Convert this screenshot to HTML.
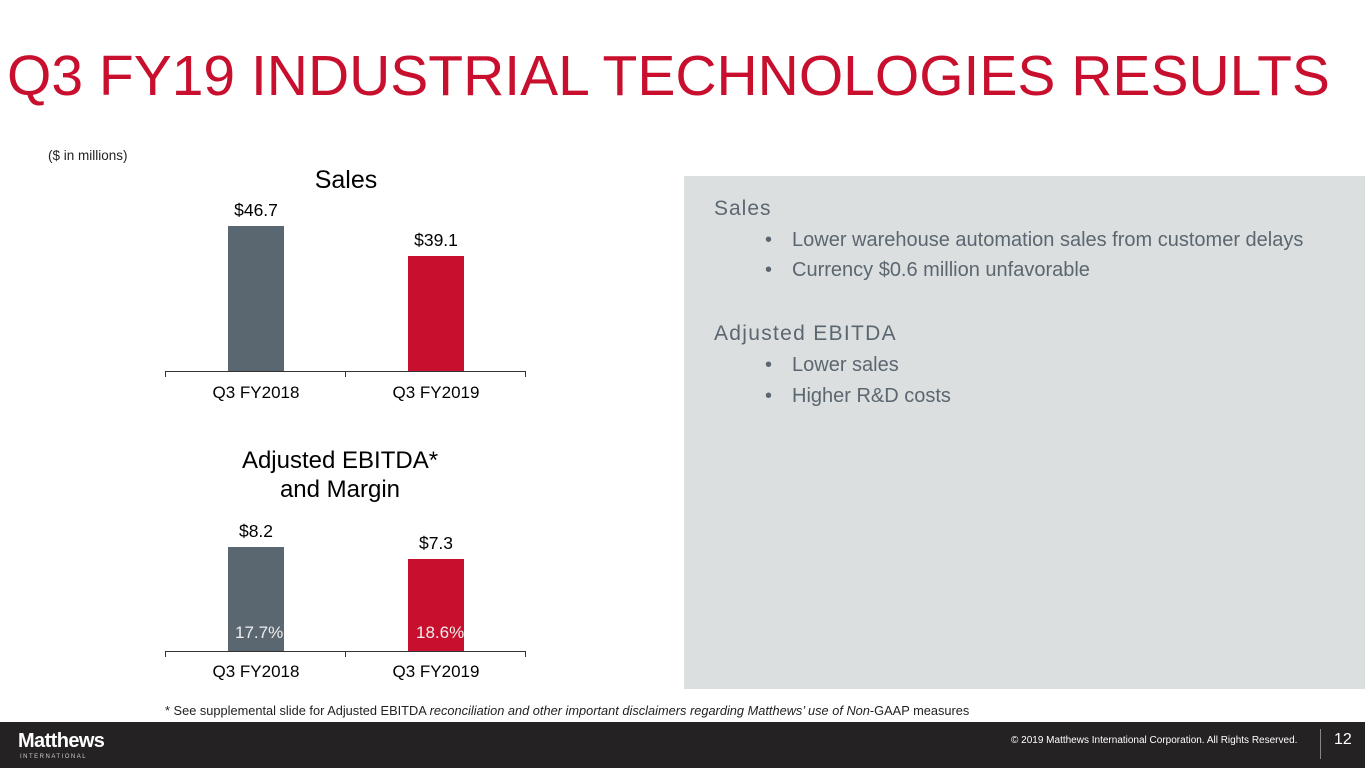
<!DOCTYPE html>
<html><head><meta charset="utf-8"><style>
body{margin:0;width:1365px;height:768px;position:relative;background:#fff;font-family:"Liberation Sans",Arial,sans-serif;overflow:hidden}
.a{position:absolute;white-space:nowrap}
</style></head><body>
<div class="a" style="left:7px;top:43px;font-size:57px;color:#c8102e">Q3 FY19 INDUSTRIAL TECHNOLOGIES RESULTS</div>
<div class="a" style="left:48px;top:148px;font-size:13.5px;color:#222">($ in millions)</div>

<div class="a" style="left:346px;top:166px;font-size:25px;transform:translateX(-50%)">Sales</div>
<div class="a" style="left:256px;top:200px;font-size:17.5px;transform:translateX(-50%)">$46.7</div>
<div class="a" style="left:436px;top:230px;font-size:17.5px;transform:translateX(-50%)">$39.1</div>
<div class="a" style="left:228px;top:226px;width:56px;height:145px;background:#5b6770"></div>
<div class="a" style="left:408px;top:256px;width:56px;height:115px;background:#c8102e"></div>
<div class="a" style="left:165px;top:371px;width:360px;height:1px;background:#333"></div>
<div class="a" style="left:165px;top:371px;width:1px;height:6px;background:#333"></div>
<div class="a" style="left:345px;top:371px;width:1px;height:6px;background:#333"></div>
<div class="a" style="left:525px;top:371px;width:1px;height:6px;background:#333"></div>
<div class="a" style="left:256px;top:383px;font-size:17px;transform:translateX(-50%)">Q3 FY2018</div>
<div class="a" style="left:436px;top:383px;font-size:17px;transform:translateX(-50%)">Q3 FY2019</div>

<div class="a" style="left:340px;top:446px;font-size:24px;transform:translateX(-50%);text-align:center;line-height:29px">Adjusted EBITDA*<br>and Margin</div>
<div class="a" style="left:256px;top:521px;font-size:17.5px;transform:translateX(-50%)">$8.2</div>
<div class="a" style="left:436px;top:533px;font-size:17.5px;transform:translateX(-50%)">$7.3</div>
<div class="a" style="left:228px;top:547px;width:56px;height:104px;background:#5b6770"></div>
<div class="a" style="left:408px;top:559px;width:56px;height:92px;background:#c8102e"></div>
<div class="a" style="left:235px;top:623px;font-size:17px;color:#eee">17.7%</div>
<div class="a" style="left:416px;top:623px;font-size:17px;color:#eee">18.6%</div>
<div class="a" style="left:165px;top:651px;width:360px;height:1px;background:#333"></div>
<div class="a" style="left:165px;top:651px;width:1px;height:6px;background:#333"></div>
<div class="a" style="left:345px;top:651px;width:1px;height:6px;background:#333"></div>
<div class="a" style="left:525px;top:651px;width:1px;height:6px;background:#333"></div>
<div class="a" style="left:256px;top:662px;font-size:17px;transform:translateX(-50%)">Q3 FY2018</div>
<div class="a" style="left:436px;top:662px;font-size:17px;transform:translateX(-50%)">Q3 FY2019</div>

<div class="a" style="left:684px;top:176px;width:681px;height:513px;background:#dcdfe0"></div>
<div class="a" style="left:714px;top:197px;font-size:21px;color:#5b6770;letter-spacing:1px">Sales</div>
<div class="a" style="left:765px;top:229px;font-size:20px;color:#5b6770">•</div>
<div class="a" style="left:792px;top:229px;font-size:20px;color:#5b6770">Lower warehouse automation sales from customer delays</div>
<div class="a" style="left:765px;top:259px;font-size:20px;color:#5b6770">•</div>
<div class="a" style="left:792px;top:259px;font-size:20px;color:#5b6770">Currency $0.6 million unfavorable</div>
<div class="a" style="left:714px;top:322px;font-size:21px;color:#5b6770;letter-spacing:1.3px">Adjusted EBITDA</div>
<div class="a" style="left:765px;top:354px;font-size:20px;color:#5b6770">•</div>
<div class="a" style="left:792px;top:354px;font-size:20px;color:#5b6770">Lower sales</div>
<div class="a" style="left:765px;top:385px;font-size:20px;color:#5b6770">•</div>
<div class="a" style="left:792px;top:385px;font-size:20px;color:#5b6770">Higher R&amp;D costs</div>

<div class="a" style="left:165px;top:703px;font-size:12.8px;color:#222">* See supplemental slide for Adjusted EBITDA <i>reconciliation and other important disclaimers regarding Matthews’ use of Non</i>-GAAP measures</div>

<div class="a" style="left:0;top:722px;width:1365px;height:46px;background:#252223"></div>
<div class="a" style="left:18px;top:730px;font-size:20px;font-weight:bold;color:#fff;letter-spacing:-0.6px">Matthews</div>
<div class="a" style="left:20px;top:754px;font-size:6px;color:#ccc;letter-spacing:1.5px">INTERNATIONAL</div>
<div class="a" style="left:1011px;top:735px;font-size:10px;color:#fff">© 2019 Matthews International Corporation. All Rights Reserved.</div>
<div class="a" style="left:1320px;top:729px;width:1px;height:30px;background:#888"></div>
<div class="a" style="left:1334px;top:731px;font-size:16px;color:#fff">12</div>
</body></html>
